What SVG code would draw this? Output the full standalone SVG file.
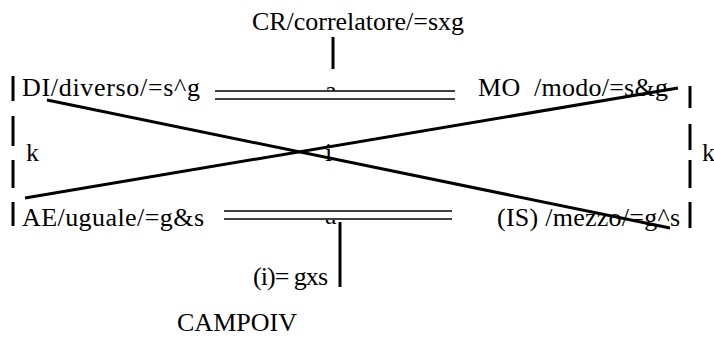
<svg xmlns="http://www.w3.org/2000/svg" width="714" height="353" viewBox="0 0 714 353">
<style>
text{font-family:"Liberation Serif","Times New Roman",serif;font-size:26px;fill:#000}
.bar{stroke:#000;stroke-width:3;fill:none}
.ln{stroke:#000;stroke-width:1.5;fill:none}
.diag{stroke:#000;stroke-width:3;fill:none}
</style>
<rect width="714" height="353" fill="#fff"/>
<g id="CR"><text x="252" y="30" textLength="212" lengthAdjust="spacing">CR/correlatore/=sxg</text></g>
<g id="DI"><text x="22" y="96" textLength="178" lengthAdjust="spacing">DI/diverso/=s^g</text></g>
<g id="MO"><text x="478" y="96" textLength="190" lengthAdjust="spacing" xml:space="preserve">MO  /modo/=s&amp;g</text></g>
<g id="AE"><text x="22" y="226" textLength="182" lengthAdjust="spacing">AE/uguale/=g&amp;s</text></g>
<g id="IS"><text x="497" y="226" textLength="183" lengthAdjust="spacing">(IS) /mezzo/=g^s</text></g>
<g id="I"><text x="253" y="285" textLength="75" lengthAdjust="spacing">(i)= gxs</text></g>
<g id="CAMPO"><text x="177" y="331" textLength="120" lengthAdjust="spacing">CAMPOIV</text></g>
<g id="labels">
<text x="26" y="161">k</text>
<text x="702" y="161">k</text>
<text x="325" y="161">i</text>
<text x="325" y="99">a</text>
<text x="325" y="224">a</text>
</g>
<g id="connectors">
<rect x="214" y="91" width="242" height="8" fill="#fff"/>
<rect x="223" y="200" width="230" height="20" fill="#fff"/>
<line class="ln" x1="215" y1="91" x2="455" y2="91"/>
<line class="ln" x1="215" y1="99" x2="455" y2="99"/>
<line class="ln" x1="224" y1="211" x2="452" y2="211"/>
<line class="ln" x1="224" y1="219" x2="452" y2="219"/>
<line class="bar" x1="333" y1="37" x2="333" y2="69"/>
<line class="bar" x1="340" y1="222" x2="340" y2="287"/>
<line class="diag" x1="47" y1="100" x2="670" y2="228"/>
<line class="diag" x1="25" y1="198" x2="678" y2="88"/>
<line class="bar" x1="13" y1="76" x2="13" y2="101"/>
<line class="bar" x1="13" y1="116" x2="13" y2="146"/>
<line class="bar" x1="13" y1="160" x2="13" y2="188"/>
<line class="bar" x1="13" y1="202" x2="13" y2="226"/>
<line class="bar" x1="690" y1="86" x2="690" y2="108"/>
<line class="bar" x1="690" y1="124" x2="690" y2="150"/>
<line class="bar" x1="690" y1="160" x2="690" y2="188"/>
<line class="bar" x1="690" y1="202" x2="690" y2="228"/>
</g>
</svg>
